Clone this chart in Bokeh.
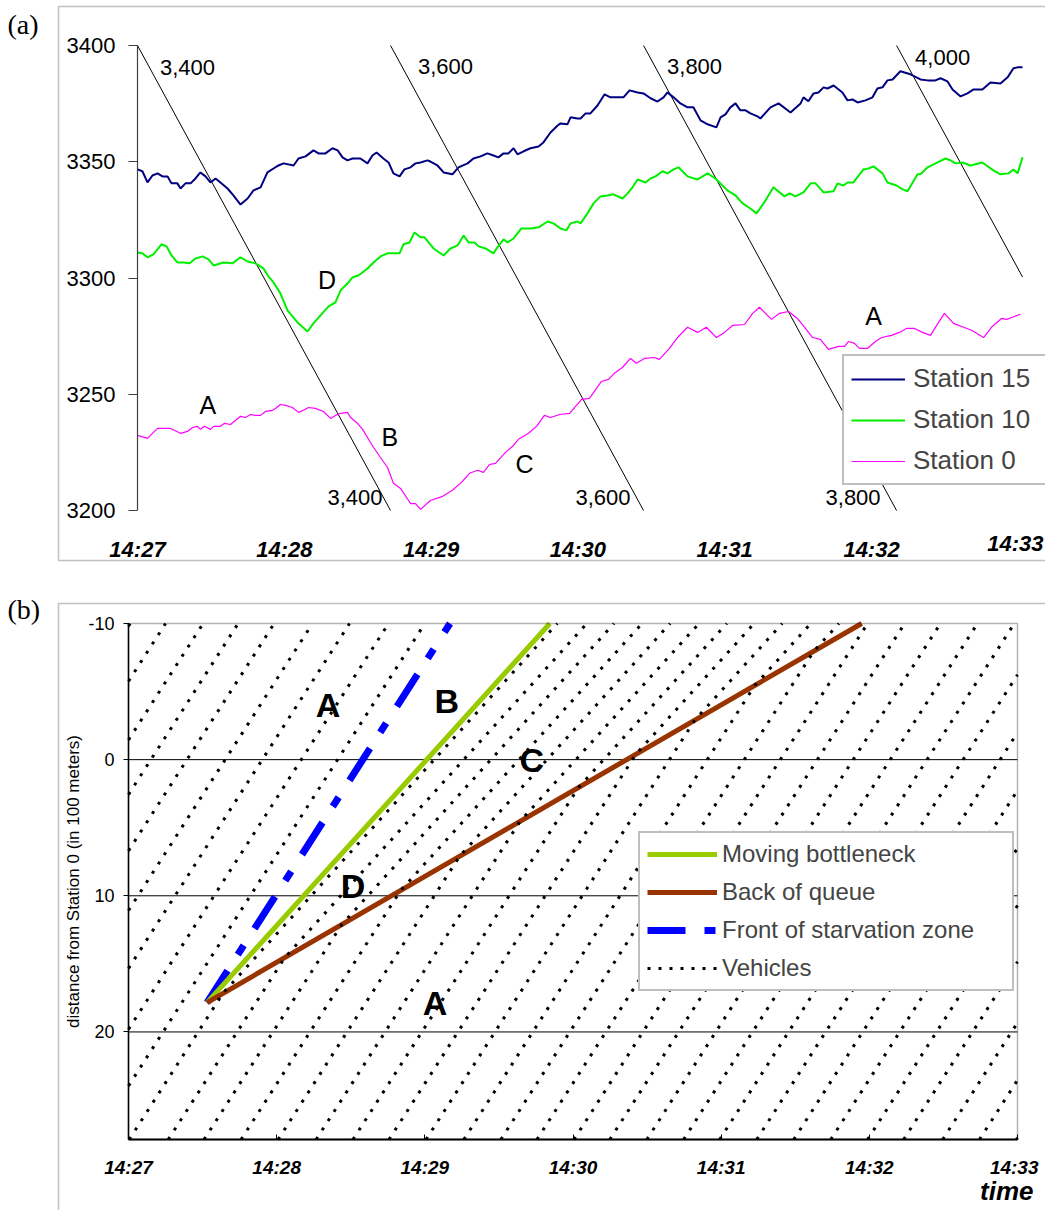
import numpy as np
from bokeh.plotting import figure
from bokeh.layouts import column
from bokeh.models import Range1d, FixedTicker, Label, Legend, LegendItem, BoxAnnotation
from bokeh.embed import file_html
from bokeh.resources import INLINE

FONT = "Liberation Sans"

# ================= panel (a) data =================
time_ticks_s = [0, 60, 120, 180, 240, 300, 360]          # seconds after 14:27
time_tick_labels = ["14:27", "14:28", "14:29", "14:30", "14:31", "14:32", "14:33"]
count_ticks = [3200, 3250, 3300, 3350, 3400]

station15_t = [0, 2.0, 4.1, 6.1, 8.2, 10.2, 12.3, 13.9, 16.3, 17.6,
               19.6, 21.7, 23.7, 25.7, 27.8, 29.8, 31.9, 33.9, 36.8, 39.2,
               42.1, 45.0, 47.4, 50.3, 53.1, 55.6, 57.6, 59.7, 63.8, 65.8,
               68.7, 71.9, 74.0, 76.8, 79.7, 81.8, 83.8, 85.8, 87.9, 91.1,
               94.0, 96.0, 97.7, 100.5, 102.6, 104.6, 107.1, 109.1, 111.6, 113.6,
               115.7, 118.5, 119.7, 122.6, 125.1, 128.7, 131.2, 134.9, 137.3, 140.2,
               143.0, 145.5, 147.5, 149.6, 151.6, 153.7, 155.3, 157.8, 160.6, 163.9,
               165.9, 168.8, 171.7, 172.9, 175.7, 177.0, 179.8, 181.1, 183.1, 185.1,
               188.0, 190.9, 193.3, 198.6, 201.1, 204.4, 206.8, 209.7, 212.5, 215.0,
               216.6, 219.1, 221.9, 224.8, 227.2, 230.1, 233.0, 236.6, 238.3, 240.3,
               242.3, 244.4, 246.4, 248.5, 250.5, 253.4, 254.6, 258.7, 262.0, 266.9,
               271.0, 272.2, 274.2, 276.3, 278.3, 280.4, 282.0, 284.5, 288.1, 290.2,
               292.2, 294.3, 297.5, 300.4, 302.4, 304.5, 306.5, 308.6, 311.8, 315.9,
               320.0, 322.9, 326.1, 328.2, 331.0, 333.1, 336.4, 339.2, 341.7, 345.3,
               348.6, 352.7, 355.6, 358.0, 359.7, 361.7]
station15_n = [3346.7, 3345.9, 3341.1, 3344.1, 3345.0, 3343.7, 3343.7, 3340.7, 3340.7, 3338.5,
               3340.7, 3340.7, 3342.8, 3345.4, 3343.7, 3341.1, 3342.8, 3341.1, 3338.5, 3335.5,
               3331.6, 3334.2, 3337.7, 3339.0, 3345.4, 3347.1, 3348.4, 3349.3, 3348.4, 3351.4,
               3352.3, 3354.9, 3353.6, 3353.6, 3355.8, 3354.9, 3351.9, 3350.6, 3351.4, 3351.4,
               3349.3, 3352.7, 3354.0, 3351.4, 3349.7, 3345.0, 3343.7, 3346.7, 3347.6, 3349.3,
               3349.7, 3350.6, 3350.1, 3348.4, 3345.4, 3344.6, 3347.6, 3349.3, 3351.4, 3352.3,
               3353.6, 3352.7, 3351.9, 3353.6, 3353.6, 3355.8, 3353.2, 3354.5, 3355.8, 3356.6,
               3358.3, 3362.6, 3365.6, 3366.5, 3366.1, 3369.1, 3368.6, 3368.6, 3370.8, 3370.8,
               3374.2, 3379.0, 3377.7, 3377.7, 3380.7, 3379.8, 3379.4, 3377.3, 3375.9, 3377.7,
               3379.8, 3377.7, 3375.1, 3373.4, 3373.4, 3367.8, 3366.1, 3364.8, 3369.1, 3370.4,
               3373.4, 3375.1, 3372.1, 3372.1, 3370.8, 3369.5, 3368.6, 3373.4, 3375.1, 3371.2,
               3375.1, 3377.7, 3376.0, 3379.4, 3379.8, 3382.0, 3381.5, 3382.8, 3379.8, 3376.4,
               3376.8, 3375.5, 3376.4, 3377.7, 3381.5, 3382.0, 3385.0, 3385.4, 3388.9, 3387.6,
               3385.4, 3385.0, 3385.0, 3385.9, 3384.6, 3381.1, 3378.1, 3379.4, 3381.1, 3381.1,
               3384.1, 3383.7, 3386.3, 3390.2, 3390.6, 3390.6]

station10_t = [0, 2.0, 4.1, 6.5, 9.8, 11.9, 13.9, 16.3, 18.8, 21.3,
               23.7, 26.6, 29.0, 31.1, 35.1, 38.8, 42.1, 45.0, 48.2, 51.5,
               53.5, 55.6, 58.4, 61.3, 65.4, 69.5, 71.9, 74.8, 78.1, 80.9,
               83.0, 84.2, 86.2, 87.9, 90.3, 94.0, 96.5, 99.3, 102.2, 107.1,
               108.7, 111.2, 113.2, 115.7, 117.3, 121.0, 125.1, 127.9, 130.8, 133.3,
               135.3, 137.7, 139.4, 142.2, 145.5, 147.1, 149.6, 151.2, 153.7, 156.9,
               160.6, 163.9, 167.6, 170.0, 172.9, 175.3, 177.0, 179.8, 181.1, 183.9,
               186.4, 189.2, 192.1, 194.5, 198.2, 200.3, 202.3, 204.4, 207.6, 209.7,
               211.7, 214.6, 216.6, 219.1, 221.1, 224.8, 228.9, 233.0, 236.2, 241.1,
               244.4, 247.3, 250.5, 253.0, 256.7, 259.9, 264.4, 266.5, 268.9, 272.2,
               275.1, 277.1, 280.4, 284.5, 286.1, 288.5, 290.2, 292.6, 296.7, 298.8,
               300.8, 304.5, 306.5, 310.2, 312.7, 314.7, 318.8, 320.0, 322.9, 327.0,
               330.2, 332.3, 334.3, 337.2, 340.4, 345.3, 349.8, 352.7, 356.0, 358.0,
               359.7, 361.7]
station10_n = [3311.0, 3310.6, 3308.9, 3310.2, 3314.5, 3313.6, 3309.7, 3306.7, 3306.7, 3306.3,
               3308.4, 3309.3, 3308.0, 3305.4, 3306.7, 3306.3, 3308.9, 3307.1, 3306.3, 3304.1,
               3300.7, 3298.1, 3293.4, 3286.1, 3280.9, 3277.0, 3280.5, 3283.9, 3287.8, 3289.5,
               3294.7, 3296.0, 3298.1, 3300.3, 3301.1, 3304.1, 3306.7, 3309.3, 3310.6, 3310.6,
               3314.5, 3315.3, 3319.6, 3317.5, 3317.5, 3312.7, 3309.7, 3312.7, 3314.0, 3318.3,
               3315.3, 3315.3, 3313.6, 3312.7, 3310.6, 3313.2, 3316.6, 3315.3, 3317.0, 3321.3,
               3321.3, 3321.8, 3324.3, 3323.5, 3321.3, 3320.5, 3323.5, 3324.3, 3323.5, 3327.8,
               3332.1, 3335.1, 3335.5, 3336.0, 3334.2, 3336.4, 3339.0, 3342.4, 3341.1, 3342.8,
               3343.7, 3345.9, 3345.0, 3346.7, 3347.6, 3343.7, 3342.4, 3345.0, 3342.8, 3337.7,
               3335.5, 3332.1, 3329.9, 3327.8, 3333.4, 3339.0, 3335.1, 3336.4, 3335.1, 3336.8,
               3340.7, 3340.7, 3336.8, 3337.3, 3340.7, 3339.8, 3341.1, 3341.1, 3346.7, 3347.1,
               3348.0, 3345.0, 3341.1, 3339.8, 3338.1, 3337.3, 3344.6, 3344.6, 3347.6, 3349.7,
               3351.4, 3350.6, 3349.3, 3349.7, 3348.4, 3349.7, 3346.3, 3344.6, 3345.0, 3346.7,
               3345.0, 3351.9]

station0_t = [0, 4.1, 6.1, 8.2, 13.5, 17.6, 20.4, 22.5, 24.5, 25.7,
              27.4, 29.8, 31.1, 33.9, 35.6, 38.0, 40.1, 42.1, 44.1, 46.2,
              48.2, 50.3, 52.3, 55.2, 56.4, 58.4, 60.5, 63.3, 65.8, 67.8,
              69.9, 72.7, 76.0, 78.9, 80.9, 83.0, 85.8, 87.1, 89.9, 92.0,
              94.0, 96.5, 99.3, 102.2, 104.6, 107.5, 111.6, 113.6, 115.7, 119.7,
              124.7, 128.7, 132.4, 135.7, 139.0, 141.4, 143.9, 146.3, 150.4, 153.3,
              155.7, 159.8, 163.1, 166.3, 168.8, 172.5, 176.6, 181.5, 184.7, 189.6,
              192.5, 194.9, 198.2, 201.5, 203.9, 207.2, 211.3, 213.3, 217.4, 220.7,
              224.8, 228.9, 232.5, 236.6, 239.9, 243.2, 248.1, 251.4, 254.2, 259.1,
              262.4, 266.1, 269.7, 273.0, 275.9, 279.1, 282.4, 286.5, 289.0, 290.6,
              293.0, 295.1, 298.3, 301.6, 304.1, 308.2, 311.4, 314.3, 317.6, 320.8,
              324.1, 326.6, 329.8, 333.5, 337.6, 340.9, 345.8, 349.0, 353.1, 355.2,
              357.6, 360.9]
station0_n = [3232.3, 3231.0, 3233.2, 3235.3, 3235.3, 3233.2, 3234.0, 3235.7, 3236.2, 3234.9,
              3236.2, 3234.9, 3236.2, 3236.2, 3237.5, 3237.0, 3238.8, 3240.5, 3240.0, 3241.3,
              3240.9, 3240.9, 3242.6, 3243.1, 3243.9, 3245.6, 3245.2, 3244.3, 3242.2, 3243.1,
              3244.3, 3243.9, 3242.6, 3239.6, 3240.9, 3241.8, 3242.2, 3240.0, 3237.5, 3234.9,
              3231.4, 3227.1, 3222.8, 3218.5, 3211.7, 3209.5, 3203.0, 3203.0, 3200.5, 3204.3,
              3206.1, 3208.7, 3212.1, 3216.0, 3217.3, 3216.4, 3219.8, 3220.3, 3225.0, 3227.6,
              3230.6, 3233.2, 3236.2, 3240.9, 3240.0, 3241.3, 3241.8, 3247.8, 3248.2, 3255.5,
              3256.4, 3259.0, 3261.5, 3265.4, 3263.3, 3265.4, 3265.8, 3265.0, 3269.7, 3274.4,
              3278.8, 3276.6, 3278.8, 3274.4, 3276.6, 3279.6, 3280.0, 3284.8, 3287.4, 3282.2,
              3284.8, 3285.6, 3282.6, 3278.3, 3274.4, 3273.6, 3269.3, 3270.6, 3270.6, 3272.7,
              3271.9, 3269.7, 3269.7, 3272.7, 3274.4, 3275.3, 3276.6, 3278.3, 3278.3, 3276.6,
              3275.3, 3279.6, 3284.8, 3280.5, 3278.8, 3277.5, 3274.4, 3278.8, 3282.6, 3282.2,
              3283.1, 3284.4]

reference_counts = [3400, 3600, 3800, 4000]
reference_labels = ["3,400", "3,600", "3,800", "4,000"]
background_rate = 1.934          # vehicles per second removed (slope of the reference lines)
data_end_s = 361.7

region_a_labels = ["A", "D", "B", "C", "A"]
region_a_t = [28.7, 77.5, 103.1, 158.2, 300.8]
region_a_n = [3245.2, 3299.0, 3231.6, 3220.1, 3283.5]

# ================= panel (b) data =================
distance_ticks = [-10, 0, 10, 20]
distance_bottom = 27.9
bottleneck_t = [31.8, 170.6]
bottleneck_d = [17.85, -10.0]
queue_t = [31.8, 296.9]
queue_d = [17.85, -10.0]
front_t = [31.8, 130.2]
front_d = [17.85, -10.0]
# times (s after 14:27) at which each vehicle trajectory crosses distance 20
vehicle_t_at_20 = [-105.3, -91.0, -75.8, -61.6, -47.0, -31.5, -16.5, -0.7, 14.0, 28.2,
                   44.0, 58.5, 73.5, 88.5, 103.9, 118.8, 133.4, 148.4, 163.7, 178.7,
                   193.3, 208.3, 222.8, 237.8, 252.7, 267.3, 282.3, 297.3, 312.3, 327.2,
                   341.8, 357.6, 372.5, 387.5]

region_b_labels = ["A", "B", "C", "D", "A"]
region_b_t = [80.8, 128.9, 163.3, 90.9, 124.1]
region_b_d = [-4.0, -4.3, 0.0, 9.3, 17.9]

W = 1045

# ================= figure (a) =================
# page pixel layout: plot area x=137..1022, y=45..510 (frame covers the whole canvas)
H1 = 590
AX0, AY0 = 137, 45
pxs1 = 885 / data_end_s
pxu1 = 465 / (count_ticks[-1] - count_ticks[0])
def tx1(px): return (px - AX0) / pxs1
def vy1(py): return count_ticks[-1] - (py - AY0) / pxu1

p1 = figure(width=W, height=H1, x_range=Range1d(tx1(0), tx1(W)),
            y_range=Range1d(vy1(H1), vy1(0)),
            output_backend="svg", toolbar_location=None, min_border=0,
            min_border_left=0, min_border_right=0, min_border_top=0, min_border_bottom=0)
p1.outline_line_color = None
p1.xgrid.visible = False
p1.ygrid.visible = False
p1.background_fill_color = "white"
p1.border_fill_color = "white"

# panel frame
p1.add_layout(BoxAnnotation(left=tx1(58), right=tx1(W + 40), top=vy1(6), bottom=vy1(560),
                            fill_color=None, fill_alpha=0,
                            line_color="#333333", line_width=1.5))

for N in reference_counts:
    ta = max(0.0, (N - count_ticks[-1]) / background_rate)
    tb = min(data_end_s, (N - count_ticks[0]) / background_rate)
    p1.line([ta, tb], [N - background_rate * ta, N - background_rate * tb],
            line_color="black", line_width=1)

top_dx = [50, 55, 51, 46]
top_dy = [22, 21, 21, 12]
bot_dx = [-8, -13, -16]
for i, (N, lab) in enumerate(zip(reference_counts, reference_labels)):
    ta = max(0.0, (N - count_ticks[-1]) / background_rate)
    p1.add_layout(Label(x=ta + top_dx[i] / pxs1, y=count_ticks[-1] - top_dy[i] / pxu1, text=lab,
                        text_font=FONT, text_font_size="22px", text_align="center",
                        text_baseline="middle", text_color="black"))
    tb = (N - count_ticks[0]) / background_rate
    if tb <= data_end_s and i < len(bot_dx):
        p1.add_layout(Label(x=tb + bot_dx[i] / pxs1, y=count_ticks[0] + 13 / pxu1, text=lab,
                            text_font=FONT, text_font_size="22px", text_align="right",
                            text_baseline="middle", text_color="black"))

r15 = p1.line(station15_t, station15_n, line_color="#000080", line_width=2)
r10 = p1.line(station10_t, station10_n, line_color="#00f000", line_width=2)
r0 = p1.line(station0_t, station0_n, line_color="#ff00ff", line_width=1.2)

for lab, t, n in zip(region_a_labels, region_a_t, region_a_n):
    p1.add_layout(Label(x=t, y=n, text=lab, text_font=FONT, text_font_size="25px",
                        text_align="center", text_baseline="middle", text_color="black"))

p1.yaxis.fixed_location = 0
p1.yaxis.bounds = (count_ticks[0], count_ticks[-1])
p1.yaxis.ticker = FixedTicker(ticks=count_ticks)
p1.yaxis.axis_line_color = "#404040"
p1.yaxis.axis_line_width = 1.2
p1.yaxis.major_tick_line_color = "#404040"
p1.yaxis.major_tick_out = 9
p1.yaxis.major_tick_in = 0
p1.yaxis.minor_tick_line_color = None
p1.yaxis.major_label_text_font = FONT
p1.yaxis.major_label_text_font_size = "22px"
p1.yaxis.major_label_text_color = "black"
p1.yaxis.major_label_standoff = 13

p1.xaxis.fixed_location = count_ticks[0]
p1.xaxis.ticker = FixedTicker(ticks=time_ticks_s)
over1 = {t: l for t, l in zip(time_ticks_s, time_tick_labels)}
over1[time_ticks_s[-1]] = ""
p1.xaxis.major_label_overrides = over1
p1.xaxis.axis_line_color = None
p1.xaxis.major_tick_line_color = None
p1.xaxis.minor_tick_line_color = None
p1.xaxis.major_label_text_font = FONT
p1.xaxis.major_label_text_font_size = "22px"
p1.xaxis.major_label_text_font_style = "bold italic"
p1.xaxis.major_label_text_color = "black"
p1.xaxis.major_label_standoff = 20
p1.add_layout(Label(x=tx1(1043), y=count_ticks[0] - 20 / pxu1, text=time_tick_labels[-1],
                    text_font=FONT, text_font_size="22px", text_font_style="bold italic",
                    text_align="right", text_baseline="top", text_color="black"))

p1.add_layout(Label(x=tx1(7), y=vy1(8), text="(a)",
                    text_font="Liberation Serif", text_font_size="28px",
                    text_align="left", text_baseline="top", text_color="black"))

leg1 = Legend(items=[LegendItem(label="Station 15", renderers=[r15]),
                     LegendItem(label="Station 10", renderers=[r10]),
                     LegendItem(label="Station 0", renderers=[r0])],
              location=(842, H1 - 485), orientation="vertical",
              border_line_color="#808080", border_line_width=2,
              background_fill_color="white", background_fill_alpha=1.0,
              label_text_font=FONT, label_text_font_size="26px",
              glyph_width=54, glyph_height=30, label_height=30, label_width=160,
              spacing=10, padding=7, label_standoff=8, margin=0)
p1.add_layout(leg1)

# ================= figure (b) =================
H2 = 620
BX0, BY0 = 128, 33          # plot area top-left inside this canvas (page y = 590 + canvas y)
pxs2 = 889 / time_ticks_s[-1]
pxu2 = 516 / (distance_bottom - distance_ticks[0])
def tx2(px): return (px - BX0) / pxs2
def dy2(py): return distance_ticks[0] + (py - BY0) / pxu2

p2 = figure(width=W, height=H2, x_range=Range1d(tx2(0), tx2(W)),
            y_range=Range1d(dy2(H2), dy2(0)),
            output_backend="svg", toolbar_location=None, min_border=0,
            min_border_left=0, min_border_right=0, min_border_top=0, min_border_bottom=0)
p2.outline_line_color = None
p2.xgrid.visible = False
p2.ygrid.visible = False
p2.background_fill_color = "white"
p2.border_fill_color = "white"

# panel frame and plot-area outline
p2.add_layout(BoxAnnotation(left=tx2(58), right=tx2(W + 40), top=dy2(13), bottom=dy2(H2 + 40),
                            fill_color=None, fill_alpha=0,
                            line_color="#333333", line_width=1.5))
p2.add_layout(BoxAnnotation(left=time_ticks_s[0], right=time_ticks_s[-1],
                            top=distance_ticks[0], bottom=distance_bottom,
                            fill_color=None, fill_alpha=0,
                            line_color="black", line_width=1.5))
# horizontal grid lines inside the plot area
p2.multi_line([[time_ticks_s[0], time_ticks_s[-1]] for _ in distance_ticks[1:]],
              [[d, d] for d in distance_ticks[1:]], line_color="black", line_width=1)

# kinematic-wave vehicle trajectories from read crossing times and read wave speeds
vA = (front_d[0] - front_d[1]) / (front_t[1] - front_t[0])
vG = (bottleneck_d[0] - bottleneck_d[1]) / (bottleneck_t[1] - bottleneck_t[0])
vQ = (queue_d[0] - queue_d[1]) / (queue_t[1] - queue_t[0])
t0, d0 = bottleneck_t[0], bottleneck_d[0]

def clip_seg(x0, y0, x1, y1, xmin, xmax, ymin, ymax):
    dx, dy = x1 - x0, y1 - y0
    u0, u1 = 0.0, 1.0
    for pi, qi in ((-dx, x0 - xmin), (dx, xmax - x0), (-dy, y0 - ymin), (dy, ymax - y0)):
        if pi == 0:
            if qi < 0:
                return None
        else:
            r = qi / pi
            if pi < 0:
                u0 = max(u0, r)
            else:
                u1 = min(u1, r)
    if u0 > u1:
        return None
    return (x0 + u0 * dx, y0 + u0 * dy, x0 + u1 * dx, y0 + u1 * dy)

def clip_poly(xs, ys):
    ox, oy = [], []
    for i in range(len(xs) - 1):
        c = clip_seg(xs[i], ys[i], xs[i + 1], ys[i + 1],
                     time_ticks_s[0], time_ticks_s[-1], distance_ticks[0], distance_bottom)
        if c is None:
            continue
        if not ox:
            ox += [c[0], c[2]]; oy += [c[1], c[3]]
        else:
            ox.append(c[2]); oy.append(c[3])
    return ox, oy

vx, vy = [], []
for s in vehicle_t_at_20:
    t_bot = s - (40 - 20) / vA
    t_reach = s + (20 - d0) / vA
    if t_reach <= t0:
        xs = [t_bot, s + (20 + 20) / vA]
        ys = [40, -20]
    else:
        t_hit = (20 - d0 + vA * s - vQ * t0) / (vA - vQ)
        d_hit = 20 - vA * (t_hit - s)
        xs = [t_bot, t_hit, t_hit + (d_hit + 20) / vG]
        ys = [40, d_hit, -20]
    cx, cy = clip_poly(xs, ys)
    if cx:
        vx.append(cx); vy.append(cy)

r_front = p2.line(front_t, front_d, line_color="#0000ff", line_width=7,
                  line_dash="38 19 11 20")
r_bn = p2.line(bottleneck_t, bottleneck_d, line_color="#99cc00", line_width=5)
r_q = p2.line(queue_t, queue_d, line_color="#993300", line_width=5)
r_veh = p2.multi_line(vx, vy, line_color="black", line_width=3, line_dash="3 8")

for lab, t, d in zip(region_b_labels, region_b_t, region_b_d):
    p2.add_layout(Label(x=t, y=d, text=lab, text_font=FONT, text_font_size="34px",
                        text_font_style="bold", text_align="center",
                        text_baseline="middle", text_color="black"))

p2.yaxis.fixed_location = time_ticks_s[0]
p2.yaxis.bounds = (distance_ticks[0], distance_bottom)
p2.yaxis.ticker = FixedTicker(ticks=distance_ticks)
p2.yaxis.major_label_overrides = {d: str(d) for d in distance_ticks}
p2.yaxis.axis_line_color = "black"
p2.yaxis.axis_line_width = 1.5
p2.yaxis.major_tick_line_color = "black"
p2.yaxis.major_tick_out = 5
p2.yaxis.major_tick_in = 0
p2.yaxis.minor_tick_line_color = None
p2.yaxis.major_label_text_font = FONT
p2.yaxis.major_label_text_font_size = "18px"
p2.yaxis.major_label_text_color = "black"
p2.yaxis.major_label_standoff = 9
p2.yaxis.axis_label = "distance from Station 0 (in 100 meters)"
p2.yaxis.axis_label_text_font = FONT
p2.yaxis.axis_label_text_font_size = "17px"
p2.yaxis.axis_label_text_font_style = "normal"
p2.yaxis.axis_label_text_color = "black"
p2.yaxis.axis_label_standoff = 2

p2.xaxis.fixed_location = distance_bottom
p2.xaxis.bounds = (time_ticks_s[0], time_ticks_s[-1])
p2.xaxis.ticker = FixedTicker(ticks=time_ticks_s)
over2 = {t: l for t, l in zip(time_ticks_s, time_tick_labels)}
over2[time_ticks_s[-1]] = ""
p2.xaxis.major_label_overrides = over2
p2.xaxis.axis_line_color = "black"
p2.xaxis.axis_line_width = 2
p2.xaxis.major_tick_line_color = "black"
p2.xaxis.major_tick_in = 5
p2.xaxis.major_tick_out = 0
p2.xaxis.minor_tick_line_color = None
p2.xaxis.major_label_text_font = FONT
p2.xaxis.major_label_text_font_size = "19px"
p2.xaxis.major_label_text_font_style = "bold italic"
p2.xaxis.major_label_text_color = "black"
p2.xaxis.major_label_standoff = 17
p2.add_layout(Label(x=tx2(1038), y=distance_bottom + 17 / pxu2, text=time_tick_labels[-1],
                    text_font=FONT, text_font_size="19px", text_font_style="bold italic",
                    text_align="right", text_baseline="top", text_color="black"))
p2.add_layout(Label(x=tx2(1033), y=dy2(600), text="time",
                    text_font=FONT, text_font_size="26px", text_font_style="bold italic",
                    text_align="right", text_baseline="middle", text_color="black"))
p2.add_layout(Label(x=tx2(7), y=dy2(3), text="(b)",
                    text_font="Liberation Serif", text_font_size="28px",
                    text_align="left", text_baseline="top", text_color="black"))

leg2 = Legend(items=[LegendItem(label="Moving bottleneck", renderers=[r_bn]),
                     LegendItem(label="Back of queue", renderers=[r_q]),
                     LegendItem(label="Front of starvation zone", renderers=[r_front]),
                     LegendItem(label="Vehicles", renderers=[r_veh])],
              location=(638, H2 - 401), orientation="vertical",
              border_line_color="#808080", border_line_width=2,
              background_fill_color="white", background_fill_alpha=1.0,
              label_text_font=FONT, label_text_font_size="24px",
              glyph_width=70, glyph_height=28, label_height=28, label_width=283,
              spacing=10, padding=7, label_standoff=5, margin=0)
p2.add_layout(leg2)

layout = column(p1, p2, spacing=0)
open("out.html", "w").write(file_html(layout, INLINE))
